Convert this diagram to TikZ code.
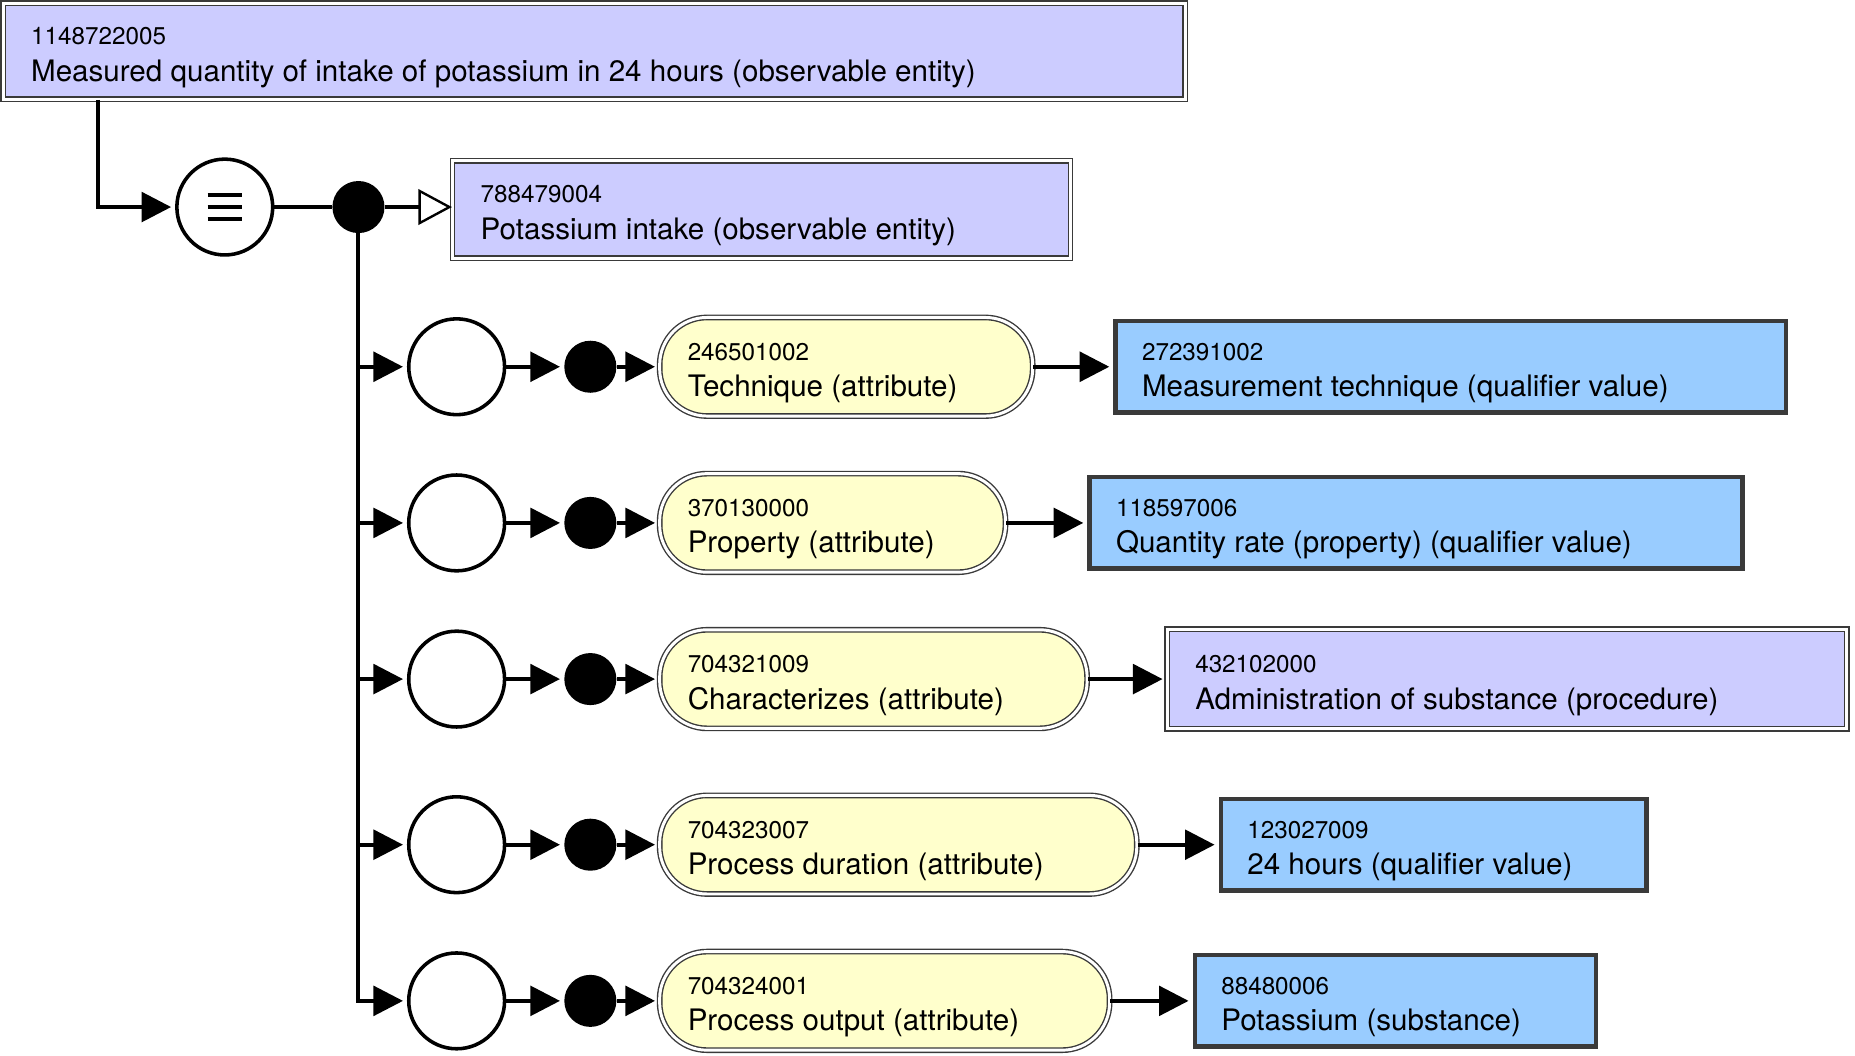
\documentclass[tikz,border=0pt]{standalone}
\usepackage{fontspec}
\setmainfont{TeX Gyre Heros}
\usetikzlibrary{arrows.meta}

\definecolor{conceptfill}{HTML}{CCCCFF}
\definecolor{attrfill}{HTML}{FFFFCC}
\definecolor{valuefill}{HTML}{99CCFF}
\definecolor{edgegray}{HTML}{3A3A3A}

\tikzset{
  concept/.style={rectangle, fill=conceptfill, draw=edgegray, line width=0.7pt,
    double=white, double distance=1.5pt, inner sep=0pt, minimum height=48.8pt},
  attr/.style={rectangle, rounded corners=24pt, fill=attrfill, draw=edgegray,
    line width=0.7pt, double=white, double distance=1.5pt, inner sep=0pt,
    minimum height=50pt},
  valuebox/.style={rectangle, fill=valuefill, draw=edgegray,
    line width=2.2pt, inner sep=0pt, minimum height=46.4pt},
  junction/.style={circle, draw=black, line width=1.8pt, fill=white,
    minimum size=48.6pt, inner sep=0pt},
  blob/.style={circle, fill=black, minimum size=26.4pt, inner sep=0pt},
  link/.style={line width=2pt, -{Triangle[length=15pt,width=15pt]}, shorten >=2pt},
  isa/.style={line width=2pt, -{Triangle[open,length=17pt,width=18pt,line width=1.2pt]}},
  plain/.style={line width=2pt},
  idtxt/.style={anchor=base west, inner sep=0pt, font=\fontsize{12.3}{14}\selectfont},
  nametxt/.style={anchor=base west, inner sep=0pt, font=\fontsize{15}{18}\selectfont},
}

% two-line caption of a concept box: identifier above, name below
\newcommand\boxtext[3]{%
  \node[idtxt] (#1-id) at ([xshift=14.4pt,yshift=3.4pt]#1.west) {#2};
  \node[nametxt] (#1-name) at ([xshift=14.4pt,yshift=-15.2pt]#1.west) {#3};}

\begin{document}
\begin{tikzpicture}[x=0.6pt,y=-0.6pt]
\useasboundingbox (0,0) rectangle (1568,892);

% defined concept and its parent
\node[concept, minimum width=599.6pt, anchor=north west] (obs) at (2,2) {};
\boxtext{obs}{1148722005}{Measured quantity of intake of potassium in 24 hours (observable entity)}

\node[junction] (eqv) at (190,175) {};
\draw[line width=2.2pt] ([xshift=-8.7pt,yshift=6pt]eqv.center) -- ++(17.4pt,0);
\draw[line width=2.2pt] ([xshift=-8.7pt]eqv.center) -- ++(17.4pt,0);
\draw[line width=2.2pt] ([xshift=-8.7pt,yshift=-6pt]eqv.center) -- ++(17.4pt,0);

\node[blob] (d0) at (303,175) {};

\node[concept, minimum width=313.4pt, minimum height=49.4pt, anchor=west] (intake) at (382,177) {};
\boxtext{intake}{788479004}{Potassium intake (observable entity)}

\draw[link] ([xshift=48.6pt]obs.south west) |- (eqv);
\draw[plain] (eqv) -- (d0);
\draw[isa] (d0) -- (d0 -| intake.west);

% attribute groups
\coordinate (t1) at (303,310);
\coordinate (t2) at (303,442);
\coordinate (t3) at (303,574);
\coordinate (t4) at (303,714);

% row 1
\node[junction] (g1) at (386,310) {};
\node[blob] (g1d) at (499,310) {};
\node[attr, minimum width=189.2pt, anchor=west] (a1) at (557,310) {};
\node[valuebox, minimum width=340.2pt, anchor=west] (v1) at (941,310) {};
\boxtext{a1}{246501002}{Technique (attribute)}
\boxtext{v1}{272391002}{Measurement technique (qualifier value)}

% row 2
\node[junction] (g2) at (386,442) {};
\node[blob] (g2d) at (499,442) {};
\node[attr, minimum width=175.4pt, anchor=west] (a2) at (557,442) {};
\node[valuebox, minimum width=331.2pt, anchor=west] (v2) at (919,442) {};
\boxtext{a2}{370130000}{Property (attribute)}
\boxtext{v2}{118597006}{Quantity rate (property) (qualifier value)}

% row 3
\node[junction] (g3) at (386,574) {};
\node[blob] (g3d) at (499,574) {};
\node[attr, minimum width=216.8pt, anchor=west] (a3) at (557,574) {};
\node[concept, minimum width=344.6pt, minimum height=50.6pt, anchor=west] (v3) at (986,574) {};
\boxtext{a3}{704321009}{Characterizes (attribute)}
\boxtext{v3}{432102000}{Administration of substance (procedure)}

% row 4
\node[junction] (g4) at (386,714) {};
\node[blob] (g4d) at (499,714) {};
\node[attr, minimum width=242pt, anchor=west] (a4) at (557,714) {};
\node[valuebox, minimum width=216pt, anchor=west] (v4) at (1030,714) {};
\boxtext{a4}{704323007}{Process duration (attribute)}
\boxtext{v4}{123027009}{24 hours (qualifier value)}

% row 5
\node[junction] (g5) at (386,846) {};
\node[blob] (g5d) at (499,846) {};
\node[attr, minimum width=228.2pt, anchor=west] (a5) at (557,846) {};
\node[valuebox, minimum width=203.4pt, anchor=west] (v5) at (1008,846) {};
\boxtext{a5}{704324001}{Process output (attribute)}
\boxtext{v5}{88480006}{Potassium (substance)}

% trunk and branches
\draw[link] (d0) |- (g5);
\foreach \i in {1,2,3,4} {\draw[link] (t\i) -- (g\i);}
\foreach \i in {1,...,5} {
  \draw[link] (g\i) -- (g\i d);
  \draw[link] (g\i d) -- (a\i);
  \draw[link] (a\i) -- (v\i);
}
\end{tikzpicture}
\end{document}
